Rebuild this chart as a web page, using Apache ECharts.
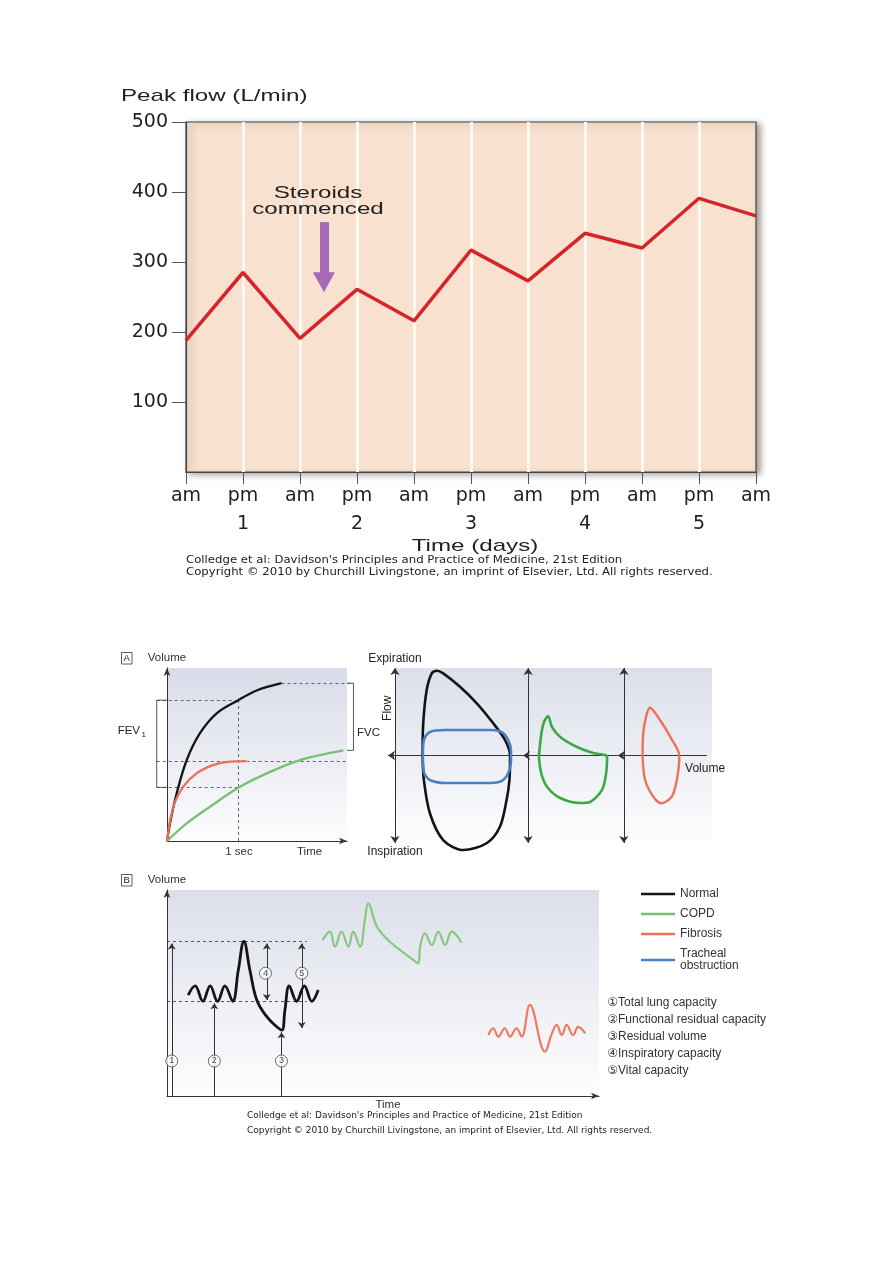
<!DOCTYPE html>
<html><head><meta charset="utf-8">
<script src="https://cdn.jsdelivr.net/npm/echarts@6/dist/echarts.min.js"></script>
<style>html,body{margin:0;padding:0;background:#fff}#c{width:893px;height:1263px}</style>
</head><body><div id="c"></div>
<script>
// ===== Top chart: peak flow =====
const timeLabels = ['am','pm','am','pm','am','pm','am','pm','am','pm','am'];
const dayLabels  = ['','1','','2','','3','','4','','5',''];
const peakFlow   = [188, 285, 191, 261, 216, 317, 273, 341, 320, 391, 366];
const peakTicks  = [100, 200, 300, 400, 500];
const steroidsArrow = {x: 2.42, from: 357, to: 271};
const steroidsText  = {x: 2.316, y: 386, text: 'Steroids\ncommenced'};

// ===== Panel A (left): volume-time spirogram (time in s, volume in % scale) =====
const vtNormal   = [[0,0],[0.05,12],[0.135,27.6],[0.274,46.8],[0.458,62.3],[0.69,73.8],[0.99,81.4],[1.246,87],[1.59,91.2]];
const vtFibrosis = [[0,0],[0.088,19.8],[0.227,31.4],[0.41,39.1],[0.64,43.9],[0.875,45.9],[1.1,46.2]];
const vtCOPD     = [[0,0],[0.274,10.2],[0.597,19.8],[0.99,30.8],[1.385,39.1],[1.847,46.8],[2.45,52.4]];
const fev1Normal = 81.4, fvcNormal = 91.2, fvcFibrosis = 46.2, fev1COPD = 31.0, fvcLow = 52.4;

// ===== Panel A (right): flow-volume loops =====
const fvNormal = [[8.7,0],[8.9,36.8],[10.0,74.9],[11.6,93.9],[13.2,96.9],[15.2,93.9],[20.5,78.6],[25.8,59.7],[31.0,36.8],[34.7,17.7],[36.3,0],[36.1,-28],[35.2,-50.9],[33.1,-81.4],[28.9,-100.3],[21.5,-108],[15.2,-96.6],[11.0,-66],[9.1,-28],[8.7,0]];
const fvTracheal = [[8.8,0],[9.1,17.7],[11.0,26.9],[15.8,29.1],[30.0,29.1],[34.1,25.7],[36.3,12],[36.6,0],[36.3,-14.3],[34.1,-28],[30.0,-31.4],[15.8,-31.4],[11.0,-28],[9.1,-18.9],[8.8,0]];
const fvCOPD = [[45.4,-1.7],[46.1,23.4],[47.0,38.3],[48.3,45.1],[49.5,32.6],[52.1,21.1],[57.4,9.7],[62.5,2.9],[66.2,0.6],[66.9,-1.7],[66.6,-20],[65.3,-39.4],[61.5,-53.1],[58.4,-54.3],[52.1,-48.6],[48.0,-36],[46.1,-20],[45.4,-1.7]];
const fvFibrosis = [[78.1,-1.4],[78.3,25.4],[79.2,44.3],[80.4,54.6],[83.6,40.6],[86.8,21.5],[89.7,-0.6],[88.9,-28],[87.3,-47.1],[84.1,-54.6],[81.5,-47.1],[78.9,-28],[78.1,-1.4]];
const fvVertAxes = [0, 42, 72.2];
const fvHorizArrows = [-2.2, 40.4, 70.3, 98.4];

// ===== Panel B: lung volumes =====
const lvNormal = [[4.9,49],[6.5,53.5],[8.3,46],[10,53.5],[11.7,46],[13.4,53.5],[15.2,46],[16.5,61],[17.8,75],[19.2,61],[20.8,46.5],[23.1,38.5],[25.4,33.6],[26.6,32],[27.3,41.7],[28.3,53.5],[30,46],[31.8,53.5],[33.5,46],[35,51.5]];
const lvCOPD = [[36.0,75.7],[37.7,79.8],[38.9,72.5],[40.4,79.8],[42.0,72.5],[43.1,79.8],[44.7,72.5],[45.8,85.4],[46.6,93.5],[48.6,82.2],[51.6,74.9],[55.5,68.4],[58.2,64.4],[58.6,72.5],[59.7,79.0],[61.3,73.3],[62.8,79.8],[64.4,73.3],[65.9,79.8],[68.2,74.4]];
const lvFibrosis = [[74.4,29.6],[75.5,32.9],[76.7,28.8],[78.2,32.9],[79.4,28.8],[80.9,32.9],[82.1,28.8],[84.0,44.2],[87.5,21.5],[89.1,30.4],[90.2,34.5],[91.4,29.6],[92.5,34.5],[94.0,29.6],[95.2,33.6],[96.8,30.4]];
const tlcLevel = 75, frcLevel = 46, rvLevel = 32;
const circleMarks = [[1.1,17,1],[10.96,17,2],[26.5,17,3],[22.8,59.6,4],[31.2,59.6,5]];
const legendNames = ['Normal','COPD','Fibrosis','Tracheal obstruction'];
const capacityList = ['\u2460Total lung capacity','\u2461Functional residual capacity','\u2462Residual volume','\u2463Inspiratory capacity','\u2464Vital capacity'];
const credit1 = "Colledge et al: Davidson's Principles and Practice of Medicine, 21st Edition";
const credit2 = "Copyright \u00a9 2010 by Churchill Livingstone, an imprint of Elsevier, Ltd. All rights reserved.";

const SANS = "'Liberation Sans', Arial, 'DejaVu Sans', 'Noto Sans CJK JP', sans-serif";
const DJ = "'DejaVu Sans', sans-serif";

const chart = echarts.init(document.getElementById('c'), null, {renderer: 'canvas', width: 893, height: 1263});

const grad = (c0) => ({type: 'linear', x: 0, y: 0, x2: 0, y2: 1, colorStops: [{offset: 0, color: c0}, {offset: 1, color: '#fdfdfe'}]});
const hiddenAxis = (g, min, max) => ({gridIndex: g, type: 'value', min, max, show: false});
const arrowAxisLine = {show: true, symbol: ['none', 'arrow'], symbolSize: [5, 8], lineStyle: {color: '#333', width: 1}};

function linesSeries(g, segs, opts) {
  return Object.assign({
    type: 'lines', coordinateSystem: 'cartesian2d', xAxisIndex: g, yAxisIndex: g,
    clip: false, silent: true, symbol: 'none', symbolSize: 7,
    lineStyle: {color: '#333', width: 1, opacity: 1, type: 'solid', curveness: 0},
    data: segs.map(c => ({coords: c}))
  }, opts);
}
function curve(g, name, data, color, width, smooth) {
  return {type: 'line', name, xAxisIndex: g, yAxisIndex: g, data, color, smooth: smooth == null ? 0.35 : smooth,
    symbol: 'none', clip: false, silent: true, lineStyle: {color, width}};
}

const option = {
  animation: false,
  backgroundColor: '#ffffff',
  legend: {
    data: legendNames, left: 636, top: 883, orient: 'vertical', icon: 'rect',
    itemWidth: 34, itemHeight: 2.5, itemGap: 8, selectedMode: false,
    textStyle: {fontFamily: SANS, fontSize: 12, color: '#333', lineHeight: 12},
    formatter: n => n === 'Tracheal obstruction' ? 'Tracheal\nobstruction' : n
  },
  grid: [
    {left: 186, top: 122, width: 570, height: 350, show: true, backgroundColor: '#f8e2cf', borderColor: '#444', borderWidth: 1.2,
     shadowColor: 'rgba(60,40,30,0.45)', shadowBlur: 6, shadowOffsetX: 4, shadowOffsetY: 2},
    {left: 167, top: 668, width: 180, height: 173, show: true, borderWidth: 0, backgroundColor: grad('#d8dbe8')},
    {left: 395, top: 668, width: 317, height: 175, show: true, borderWidth: 0, backgroundColor: grad('#dcdfea')},
    {left: 167, top: 890, width: 432, height: 206, show: true, borderWidth: 0, backgroundColor: grad('#dcdfea')}
  ],
  xAxis: [
    {gridIndex: 0, type: 'value', min: 0, max: 10, interval: 1,
     axisLine: {show: true, onZero: false, lineStyle: {color: '#444', width: 1.2}},
     axisTick: {show: true, length: 12, lineStyle: {color: '#555'}},
     axisLabel: {margin: 10, fontFamily: DJ, fontSize: 19, color: '#222', lineHeight: 28,
                 formatter: v => timeLabels[v] + '\n' + dayLabels[v]},
     splitLine: {show: true, showMinLine: false, showMaxLine: false, lineStyle: {color: '#fff8f1', width: 3}}},
    {gridIndex: 1, type: 'value', min: 0, max: 2.5, interval: 1,
     axisLine: arrowAxisLine, axisTick: {show: false}, splitLine: {show: false},
     axisLabel: {margin: 5, fontFamily: SANS, fontSize: 11.5, color: '#333', showMaxLabel: false,
                 formatter: v => v === 1 ? '1 sec' : ''},
     name: 'Time', nameLocation: 'end', nameGap: -50,
     nameTextStyle: {fontFamily: SANS, fontSize: 11.5, color: '#333', align: 'left', verticalAlign: 'top', padding: [5, 0, 0, 0]}},
    hiddenAxis(2, 0, 100),
    {gridIndex: 3, type: 'value', min: 0, max: 100,
     axisLine: arrowAxisLine, axisTick: {show: false}, axisLabel: {show: false}, splitLine: {show: false},
     name: 'Time', nameLocation: 'middle', nameGap: 3,
     nameTextStyle: {fontFamily: SANS, fontSize: 11.5, color: '#333', verticalAlign: 'top', padding: [0, 0, 0, 10]}}
  ],
  yAxis: [
    {gridIndex: 0, type: 'value', min: 0, max: 500, interval: 100,
     axisLine: {show: true, lineStyle: {color: '#444', width: 1.2}},
     axisTick: {show: true, length: 14, lineStyle: {color: '#555'}, customValues: peakTicks},
     axisLabel: {margin: 18, fontFamily: DJ, fontSize: 19, color: '#222', customValues: peakTicks,
                 formatter: v => v === 0 ? '' : String(v)},
     splitLine: {show: false}},
    {gridIndex: 1, type: 'value', min: 0, max: 100,
     axisLine: arrowAxisLine, axisTick: {show: false}, axisLabel: {show: false}, splitLine: {show: false},
     name: 'Volume', nameLocation: 'end', nameGap: 4, nameTextStyle: {fontFamily: SANS, fontSize: 11.5, color: '#333'}},
    hiddenAxis(2, -100, 100),
    {gridIndex: 3, type: 'value', min: 0, max: 100,
     axisLine: arrowAxisLine, axisTick: {show: false}, axisLabel: {show: false}, splitLine: {show: false},
     name: 'Volume', nameLocation: 'end', nameGap: 4, nameTextStyle: {fontFamily: SANS, fontSize: 11.5, color: '#333'}}
  ],
  series: [
    // Top
    {type: 'line', name: 'Peak flow', xAxisIndex: 0, yAxisIndex: 0, data: peakFlow.map((v, i) => [i, v]),
     symbol: 'none', color: '#d5242a', lineStyle: {color: '#d5242a', width: 3.5}, z: 5, silent: true,
     markLine: {silent: true, symbol: ['none', 'triangle'], symbolSize: [22, 20], label: {show: false},
       lineStyle: {color: '#a66ab7', width: 9, type: 'solid', opacity: 1},
       data: [[{coord: [steroidsArrow.x, steroidsArrow.from]}, {coord: [steroidsArrow.x, steroidsArrow.to]}]]}},
    // Panel A left
    curve(1, 'Normal', vtNormal, '#141414', 2.3),
    curve(1, 'COPD', vtCOPD, '#74c26f', 2.3),
    curve(1, 'Fibrosis', vtFibrosis, '#e9705a', 2.3),
    linesSeries(1, [
      [[1.59, fvcNormal], [2.59, fvcNormal]],
      [[-0.143, fev1Normal], [0.99, fev1Normal]],
      [[-0.143, fvcFibrosis], [2.5, fvcFibrosis]],
      [[-0.143, fev1COPD], [0.99, fev1COPD]],
      [[0.99, 0], [0.99, fev1Normal]]
    ], {lineStyle: {color: '#555', width: 0.9, opacity: 1, type: [3, 3]}}),
    linesSeries(1, [
      [[0, fev1Normal], [-0.143, fev1Normal], [-0.143, fev1COPD], [0, fev1COPD]],
      [[2.5, fvcNormal], [2.59, fvcNormal], [2.59, fvcLow], [2.5, fvcLow]]
    ], {polyline: true, lineStyle: {color: '#444', width: 0.9, opacity: 1}}),
    // Panel A right
    curve(2, 'Normal', fvNormal, '#141414', 2.6, 0.3),
    curve(2, 'Tracheal obstruction', fvTracheal, '#4a80c4', 2.6, 0.3),
    curve(2, 'COPD', fvCOPD, '#3aa843', 2.6, 0.3),
    curve(2, 'Fibrosis', fvFibrosis, '#ec7357', 2.4, 0.3),
    linesSeries(2, fvVertAxes.map(x => [[x, -100], [x, 100]]), {symbol: ['arrow', 'arrow'], symbolSize: 7}),
    linesSeries(2, fvHorizArrows.slice(0, -1).map((x, i) => [[x, 0], [fvHorizArrows[i + 1], 0]]), {symbol: ['arrow', 'none'], symbolSize: 7}),
    // Panel B
    linesSeries(3, [[[0, tlcLevel], [32.3, tlcLevel]], [[0, frcLevel], [32.3, frcLevel]]],
      {lineStyle: {color: '#444', width: 0.9, opacity: 1, type: [3, 3]}}),
    linesSeries(3, [[[1.1, 0], [1.1, tlcLevel - 1]], [[10.96, 0], [10.96, frcLevel - 1]], [[26.5, 0], [26.5, rvLevel - 1]]],
      {symbol: ['none', 'arrow'], symbolSize: 6}),
    linesSeries(3, [[[23.1, tlcLevel - 1], [23.1, frcLevel + 0.6]], [[31.2, tlcLevel - 1], [31.2, rvLevel + 1]]],
      {symbol: ['arrow', 'arrow'], symbolSize: 6}),
    curve(3, 'Normal', lvNormal, '#141414', 2.8, 0.4),
    curve(3, 'COPD', lvCOPD, '#84c97d', 2.2, 0.4),
    curve(3, 'Fibrosis', lvFibrosis, '#ee7b5f', 2.2, 0.4),
    {type: 'scatter', xAxisIndex: 3, yAxisIndex: 3, data: circleMarks, symbol: 'circle', symbolSize: 12, silent: true, z: 10,
     itemStyle: {color: '#fff', borderColor: '#333', borderWidth: 0.9},
     label: {show: true, position: 'inside', formatter: p => String(p.value[2]), fontFamily: SANS, fontSize: 9, color: '#222'}}
  ]
};
chart.setOption(option);

const P = (g, xy) => chart.convertToPixel({gridIndex: g}, xy);
const T = (x, y, text, o) => ({type: 'text', x, y, silent: true, z: 20,
  scaleX: (o && o.scaleX) || 1, rotation: (o && o.rotation) || 0,
  style: Object.assign({text, fill: '#222', fontFamily: SANS, fontSize: 12, align: 'left', verticalAlign: 'middle'}, (o && o.style) || {})});

const p500 = P(0, [0, 500]);
const p00 = P(0, [0, 0]);
const pSt = P(0, [steroidsText.x, steroidsText.y]);
const pTd = P(0, [5.07, 0]);
const pFev = P(1, [-0.375, 63.6]);
const pFvc = P(1, [2.64, 62.4]);
const pExp = P(2, [0, 100]);
const pIns = P(2, [0, -100]);
const pFlow = P(2, [-2.2, 54]);
const pVol = P(2, [91.5, -15.4]);
const pList = P(3, [101.9, 49.3]);
const pB0 = P(3, [0, 0]);

const graphics = [
  T(p500[0] - 65, p500[1] - 26, 'Peak flow (L/min)', {scaleX: 1.42, style: {fontSize: 17}}),
  T(pSt[0], pSt[1], steroidsText.text, {scaleX: 1.42, style: {fontSize: 17, align: 'center', lineHeight: 16}}),
  T(pTd[0], pTd[1] + 74, 'Time (days)', {scaleX: 1.42, style: {fontSize: 17, align: 'center'}}),
  T(p00[0], p00[1] + 88, credit1, {scaleX: 1.17, style: {fontFamily: DJ, fontSize: 10}}),
  T(p00[0], p00[1] + 100, credit2, {scaleX: 1.17, style: {fontFamily: DJ, fontSize: 10}}),
  {type: 'rect', shape: {x: 121.5, y: 652.5, width: 10.5, height: 11.5}, style: {fill: 'none', stroke: '#333', lineWidth: 0.8}, silent: true},
  T(126.75, 658.5, 'A', {style: {fontSize: 9.5, align: 'center'}}),
  {type: 'rect', shape: {x: 121.5, y: 874.5, width: 10.5, height: 11.5}, style: {fill: 'none', stroke: '#333', lineWidth: 0.8}, silent: true},
  T(126.75, 880.5, 'B', {style: {fontSize: 9.5, align: 'center'}}),
  T(pFev[0], pFev[1], 'FEV', {style: {fontSize: 11.5, align: 'right'}}),
  T(pFev[0] + 1.5, pFev[1] + 4, '1', {style: {fontSize: 8}}),
  T(pFvc[0], pFvc[1], 'FVC', {style: {fontSize: 11.5}}),
  T(pExp[0], pExp[1] - 9, 'Expiration', {style: {fontSize: 12, align: 'center'}}),
  T(pIns[0], pIns[1] + 9, 'Inspiration', {style: {fontSize: 12, align: 'center'}}),
  T(pFlow[0], pFlow[1], 'Flow', {rotation: Math.PI / 2, style: {fontSize: 12, align: 'center'}}),
  T(pVol[0], pVol[1], 'Volume', {style: {fontSize: 12}}),
  T(pList[0], pList[1], capacityList.join('\n'), {style: {fontSize: 12, lineHeight: 17, verticalAlign: 'top', fill: '#333'}}),
  T(pB0[0] + 80, pB0[1] + 20, credit1, {scaleX: 1.0, style: {fontFamily: DJ, fontSize: 9}}),
  T(pB0[0] + 80, pB0[1] + 35, credit2, {scaleX: 1.0, style: {fontFamily: DJ, fontSize: 9}})
];
chart.setOption({graphic: graphics});
</script></body></html>
